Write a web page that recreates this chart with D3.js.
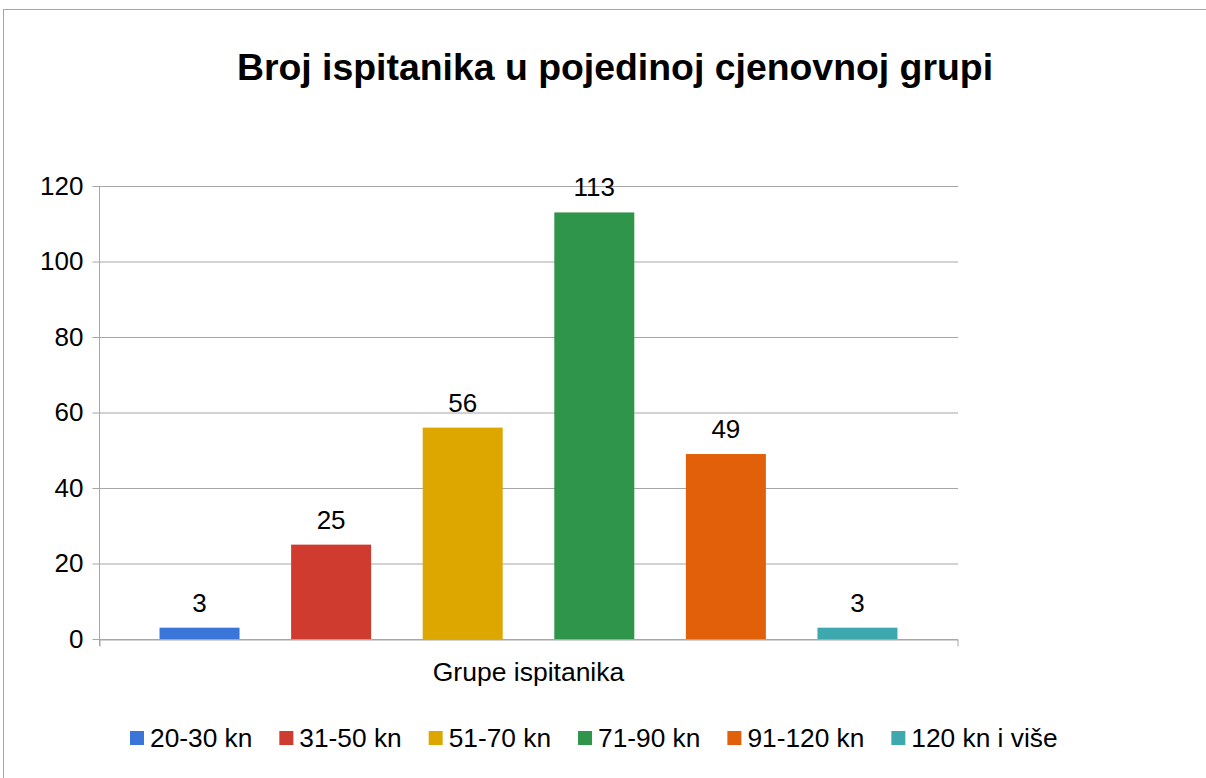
<!DOCTYPE html>
<html>
<head>
<meta charset="utf-8">
<script src="https://cdn.jsdelivr.net/npm/d3@7"></script>
<style>
  body { margin: 0; background: #fff; }
  svg { display: block; font-family: "Liberation Sans", Arial, sans-serif; }
</style>
</head>
<body>
<div id="chart"></div>
<script>
// chart data
const title = 'Broj ispitanika u pojedinoj cjenovnoj grupi';
const category = 'Grupe ispitanika';
const seriesNames = ['20-30 kn', '31-50 kn', '51-70 kn', '71-90 kn', '91-120 kn', '120 kn i više'];
const seriesValues = [3, 25, 56, 113, 49, 3];
const seriesColors = ['#3a76d9', '#d03b30', '#dea700', '#2f954a', '#e2600a', '#3da8ae'];
const yTicks = [0, 20, 40, 60, 80, 100, 120];

const width = 1206;
const height = 778;
const plot = { left: 99, right: 958, top: 186, bottom: 639 };

const svg = d3.select('#chart')
  .append('svg')
  .attr('width', width)
  .attr('height', height);

// outer chart border
svg.append('rect')
  .attr('x', 3.5)
  .attr('y', 9.5)
  .attr('width', width + 10)
  .attr('height', height + 10)
  .attr('fill', 'none')
  .attr('stroke', '#a6a6a6')
  .attr('stroke-width', 1);

// title
svg.append('text')
  .attr('x', 615)
  .attr('y', 80)
  .attr('text-anchor', 'middle')
  .style('font-size', '37.4px')
  .style('font-weight', 'bold')
  .text(title);

// scales
const yScale = d3.scaleLinear()
  .domain([0, 120])
  .range([plot.bottom, plot.top]);

const xOuter = d3.scaleBand()
  .domain([category])
  .range([plot.left, plot.right])
  .paddingInner(0)
  .paddingOuter(0.044);

const xInner = d3.scaleBand()
  .domain(seriesNames)
  .range([0, xOuter.bandwidth()])
  .paddingInner(0.392)
  .paddingOuter(0.196);

// gridlines
const grid = svg.append('g')
  .attr('class', 'gridlines')
  .attr('transform', `translate(${plot.left}, 0)`);

grid.call(
  d3.axisLeft(yScale)
    .tickValues(yTicks)
    .tickFormat('')
    .tickSize(-(plot.right - plot.left))
    .tickSizeOuter(0)
);
grid.select('.domain').remove();
grid.selectAll('line').attr('stroke', '#a6a6a6');

// y axis with tick labels
const yAxis = svg.append('g')
  .attr('transform', `translate(${plot.left + 0.5}, 0)`)
  .call(d3.axisLeft(yScale).tickValues(yTicks).tickSize(7).tickSizeOuter(0).tickPadding(9));

yAxis.select('.domain').remove();
yAxis.selectAll('line').attr('stroke', '#a6a6a6');
yAxis.selectAll('text')
  .style('font-size', '26px')
  .style('font-family', '"Liberation Sans", Arial, sans-serif')
  .attr('fill', '#000');

// vertical axis line
svg.append('line')
  .attr('x1', plot.left + 0.5)
  .attr('x2', plot.left + 0.5)
  .attr('y1', yScale(120))
  .attr('y2', plot.bottom + 7)
  .attr('stroke', '#a6a6a6');

// bottom axis (category)
const xAxis = svg.append('g')
  .attr('transform', `translate(0, ${plot.bottom + 0.5})`)
  .call(d3.axisBottom(d3.scaleLinear().domain([0, 1]).range([plot.left + 0.5, plot.right - 0.5]))
    .tickValues([0, 1])
    .tickFormat('')
    .tickSize(7)
    .tickSizeOuter(0));
xAxis.select('.domain').attr('stroke', '#a6a6a6');
xAxis.selectAll('line').attr('stroke', '#a6a6a6');

svg.append('text')
  .attr('x', xOuter(category) + xOuter.bandwidth() / 2)
  .attr('y', 681)
  .attr('text-anchor', 'middle')
  .style('font-size', '26.5px')
  .text(category);

// bars
const bars = svg.append('g').attr('class', 'bars');

bars.selectAll('rect')
  .data(seriesNames)
  .join('rect')
  .attr('x', (d) => xOuter(category) + xInner(d))
  .attr('y', (d, i) => yScale(seriesValues[i]))
  .attr('width', xInner.bandwidth())
  .attr('height', (d, i) => yScale(0) - yScale(seriesValues[i]))
  .attr('fill', (d, i) => seriesColors[i]);

// data labels
bars.selectAll('text')
  .data(seriesNames)
  .join('text')
  .attr('x', (d) => xOuter(category) + xInner(d) + xInner.bandwidth() / 2)
  .attr('y', (d, i) => yScale(seriesValues[i]) - 16)
  .attr('text-anchor', 'middle')
  .style('font-size', '26px')
  .text((d, i) => seriesValues[i]);

// legend - laid out left to right by text width
const legend = svg.append('g').attr('class', 'legend');
let cursor = 130;

seriesNames.forEach((name, i) => {
  const item = legend.append('g')
    .attr('transform', `translate(${cursor}, 731)`);

  item.append('rect')
    .attr('width', 14)
    .attr('height', 14)
    .attr('fill', seriesColors[i]);

  const label = item.append('text')
    .attr('x', 20)
    .attr('y', 16)
    .style('font-size', '26.3px')
    .text(name);

  cursor += 20 + label.node().getComputedTextLength() + 27;
});
</script>
</body>
</html>
